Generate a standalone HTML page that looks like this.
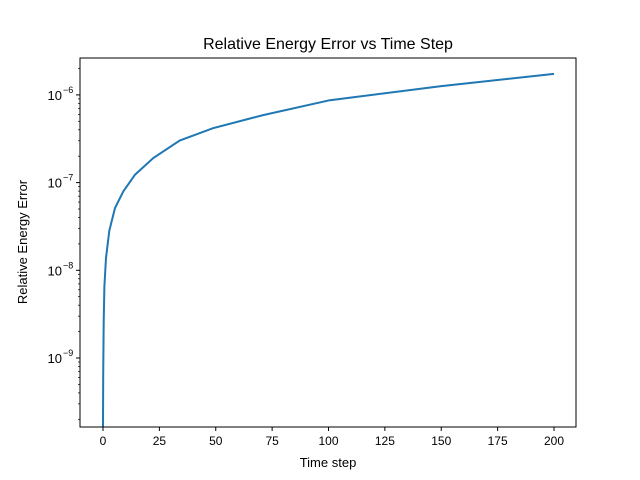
<!DOCTYPE html>
<html><head><meta charset="utf-8"><style>body{margin:0;background:#fff}svg{display:block;font-family:"Liberation Sans","DejaVu Sans",sans-serif}</style></head>
<body>
<svg id="chart" width="640" height="480">
<rect width="640" height="480" fill="#fff"/>
<text x="328" y="49" font-size="16" text-anchor="middle">Relative Energy Error vs Time Step</text>
<text x="328" y="467" font-size="13" text-anchor="middle">Time step</text>
<text transform="translate(27,242) rotate(-90)" font-size="13" text-anchor="middle">Relative Energy Error</text>
<g id="ticks"></g>
<clipPath id="clip"><rect x="80" y="58" width="496" height="369"/></clipPath>
<path id="line" clip-path="url(#clip)" fill="none" stroke="#1f77b4" stroke-width="2"/>
<rect x="80" y="58" width="496" height="369" fill="none" stroke="#000" stroke-width="1"/>
</svg>
<script>
const timeSteps=[0,0.02,0.1,0.3,0.6,1.33,2.8,5.3,9,14.2,22.3,34,48.8,71,100.6,150,200];
const logErrors=[-10.5,-9.8,-9.2,-8.58,-8.18,-7.86,-7.55,-7.29,-7.10,-6.91,-6.72,-6.52,-6.38,-6.23,-6.06,-5.90,-5.76];
const xTicks=[0,25,50,75,100,125,150,175,200];
const yDecades=[-9,-8,-7,-6];
const X0=103,XS=(554-103)/200,Y0=358,YS=87.7;
function xs(t){return X0+t*XS;}
function ys(l){return Y0-(l+9)*YS;}
const NS="http://www.w3.org/2000/svg";
const g=document.getElementById('ticks');
function mk(tag,a){const e=document.createElementNS(NS,tag);for(const k in a)e.setAttribute(k,a[k]);g.appendChild(e);return e;}
xTicks.forEach(t=>{
 const l=mk('line',{x1:xs(t),x2:xs(t),y1:427,y2:431,stroke:'#000'});
 
 
 const tx=mk('text',{x:xs(t),y:445,'font-size':12,'text-anchor':'middle'});
 tx.textContent=t;
 
 
});
for(let d=-10;d<=-6;d++){
 for(let m=2;m<=9;m++){
  const y=ys(d+Math.log10(m));
  if(y<58||y>427)continue;
  const l=mk('line',{x1:78,x2:80,y1:y,y2:y,stroke:'#000','stroke-width':0.7});
  
  
 }
}
yDecades.forEach(d=>{
 const y=ys(d);
 const l=mk('line',{x1:76,x2:80,y1:y,y2:y,stroke:'#000'});
 
 
 const tx=mk('text',{x:62,y:y+5,'font-size':13,'text-anchor':'end'});
 tx.textContent='10';
 
 
 const sp=mk('text',{x:63,y:y-2,'font-size':9});
 sp.textContent='\u2212'+(-d);
 
 
});
document.getElementById('line').setAttribute('d',timeSteps.map((t,i)=>(i?'L':'M')+xs(t).toFixed(1)+','+ys(logErrors[i]).toFixed(1)).join(''));
</script>
</body></html>
